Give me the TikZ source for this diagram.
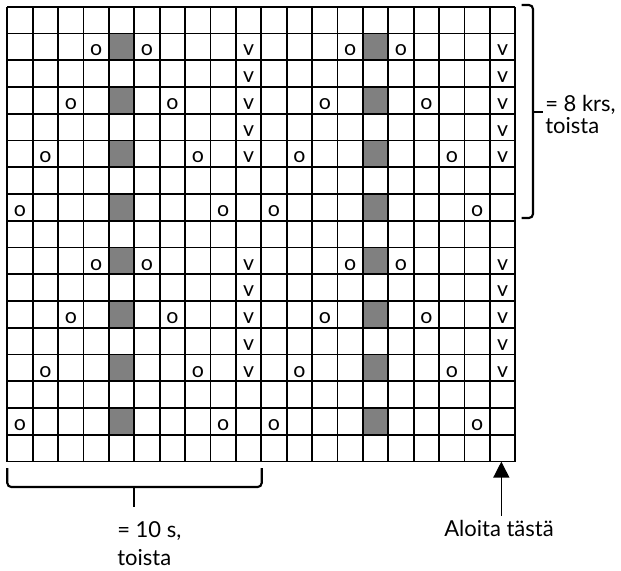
\documentclass[tikz,border=0pt]{standalone}
\usepackage{fontspec}
\setmainfont{Lato}
\usetikzlibrary{arrows.meta}
\tikzset{
  chartline/.style={line width=1.3pt},
  purl/.style={fill=black!50},
  sym/.style={font=\fontsize{16}{16}\selectfont, inner sep=0pt, anchor=base},
  note/.style={font=\fontsize{16.5}{16}\selectfont, align=left, inner sep=0pt, anchor=base west},
  bracket/.style={line width=1.6pt, rounded corners=3pt}
}
\begin{document}
\begin{tikzpicture}[x=0.75pt,y=-0.75pt]
\useasboundingbox (0,0) rectangle (621,571);
\begin{scope}[shift={(7.3,6.7)},x=19.05pt,y=-20.07pt]
\foreach \c in {4,14}
  \foreach \r in {1,3,...,15}
    \fill[purl] (\c,\r) rectangle ++(1,1);
\foreach \dc in {0,10}
  \foreach \dr in {0,8}
    \foreach \c/\r/\s in {3/1/o,5/1/o,9/1/v,9/2/v,2/3/o,6/3/o,9/3/v,9/4/v,1/5/o,7/5/o,9/5/v,0/7/o,8/7/o} {
      \pgfmathtruncatemacro\cc{\c+\dc}
      \pgfmathtruncatemacro\rr{\r+\dr}
      \node[sym] (m\cc-\rr) at (\cc+0.5,\rr+0.84) {\s};
    }
\foreach \c in {0,...,20}
  \draw[chartline] (\c,0) -- (\c,17);
\foreach \r in {0,...,17}
  \draw[chartline] (0,\r) -- (20,\r);
\coordinate (startcell) at (19.45,17);
\end{scope}
\draw[bracket] (521.7,5) -- (533,5) -- (533,218) -- (521.7,218);
\draw[bracket] (533,112) -- (543,112);
\node[note] (rowrep) at (545,133) {= 8 krs,\\toista};
\draw[bracket] (7.3,468) -- (7.3,487) -- (261.7,487) -- (261.7,468);
\draw[bracket] (134.3,487) -- (134.3,507);
\node[note, font=\fontsize{16.5}{20.5}\selectfont] (stitchrep) at (117,565) {= 10 s,\\toista};
\node[note, anchor=base] (start) at (499,536) {Aloita tästä};
\draw[line width=1pt, -{Triangle[width=12pt,length=12pt]}] (start.north -| startcell) ++(0,-4) -- (startcell);
\end{tikzpicture}
\end{document}
